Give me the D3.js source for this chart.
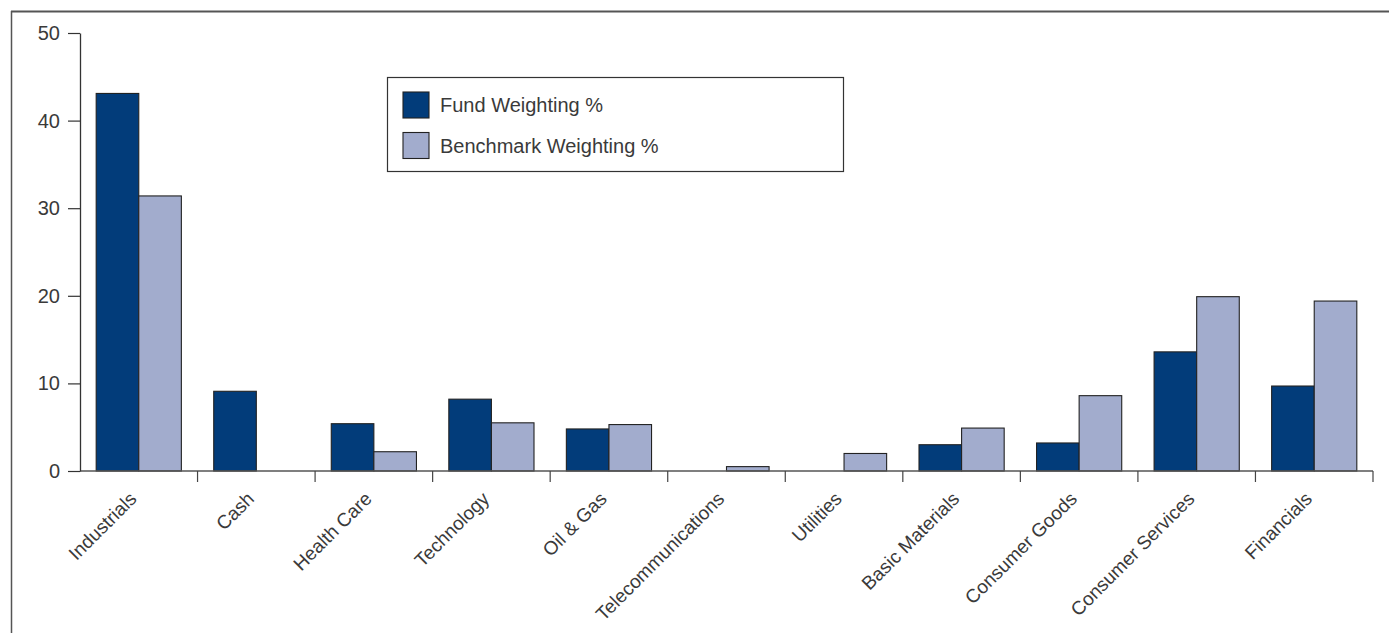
<!DOCTYPE html>
<html>
<head>
<meta charset="utf-8">
<script src="https://cdn.jsdelivr.net/npm/d3@7"></script>
<style>
  html, body { margin: 0; padding: 0; background: #fff; }
  svg { display: block; }
  text { font-family: "Liberation Sans", Arial, Helvetica, sans-serif; fill: #3a3a3a; }
</style>
</head>
<body>
<svg id="chart" width="1389" height="633"></svg>
<script>
const categories = ["Industrials", "Cash", "Health Care", "Technology", "Oil & Gas",
  "Telecommunications", "Utilities", "Basic Materials", "Consumer Goods",
  "Consumer Services", "Financials"];
const fundWeighting = [43.1, 9.1, 5.4, 8.2, 4.8, 0.0, 0.0, 3.0, 3.2, 13.6, 9.7];
const benchmarkWeighting = [31.4, 0.0, 2.2, 5.5, 5.3, 0.5, 2.0, 4.9, 8.6, 19.9, 19.4];
const seriesNames = ["Fund Weighting %", "Benchmark Weighting %"];
const seriesColors = ["#023c7a", "#a2accd"];
const yTicks = [0, 10, 20, 30, 40, 50];

const svg = d3.select("#chart");

// outer frame (top and left edges)
svg.append("line").attr("x1", 11).attr("x2", 1389).attr("y1", 11.5).attr("y2", 11.5)
  .attr("stroke", "#555").attr("stroke-width", 2);
svg.append("line").attr("x1", 11.5).attr("x2", 11.5).attr("y1", 11).attr("y2", 633)
  .attr("stroke", "#555").attr("stroke-width", 1.5);

const x0 = 80, x1 = 1373, yTop = 33, yBase = 471;
const x = d3.scaleBand().domain(categories).range([x0, x1]).paddingInner(0).paddingOuter(0);
const xs = d3.scaleBand().domain([0, 1]).range([0, x.bandwidth()]).paddingInner(0).paddingOuter(0.38);
const y = d3.scaleLinear().domain([0, 50]).range([yBase, yTop]);

const rows = categories.map((c, i) => ({ cat: c, vals: [fundWeighting[i], benchmarkWeighting[i]] }));

// bars
const g = svg.append("g");
rows.forEach(r => {
  r.vals.forEach((v, s) => {
    g.append("rect")
      .attr("x", x(r.cat) + xs(s))
      .attr("y", y(v))
      .attr("width", xs.bandwidth())
      .attr("height", yBase - y(v))
      .attr("fill", seriesColors[s])
      .attr("stroke", "#222")
      .attr("stroke-width", 1.1);
  });
});

// x axis line and ticks at band boundaries
svg.append("line").attr("x1", x0).attr("x2", x1).attr("y1", yBase).attr("y2", yBase)
  .attr("stroke", "#555").attr("stroke-width", 1.5);
const boundaries = categories.slice(1).map(c => x(c)).concat([x1]);
svg.selectAll(".xtick").data(boundaries).enter().append("line")
  .attr("x1", d => d).attr("x2", d => d)
  .attr("y1", yBase).attr("y2", yBase + 11)
  .attr("stroke", "#444").attr("stroke-width", 1.2);

// x labels
svg.selectAll(".xlab").data(categories).enter().append("text")
  .attr("transform", d => `translate(${x(d) + x.bandwidth() / 2 - 1},${yBase + 29}) rotate(-45)`)
  .attr("text-anchor", "end")
  .style("font-size", "19px")
  .text(d => d);

// y axis
const yAxis = d3.axisLeft(y).tickValues(yTicks).tickSize(12).tickPadding(8).tickSizeOuter(0);
const ya = svg.append("g").attr("transform", `translate(${x0},0)`).call(yAxis);
ya.select(".domain").attr("stroke", "#333").attr("stroke-width", 1.3);
ya.selectAll(".tick line").attr("stroke", "#333").attr("stroke-width", 1.2);
ya.selectAll(".tick text").style("font-size", "20px")
  .style("font-family", "'Liberation Sans', Arial, sans-serif").attr("fill", "#3a3a3a");

// legend
const lg = svg.append("g");
lg.append("rect").attr("x", 387.5).attr("y", 77.5).attr("width", 456).attr("height", 94)
  .attr("fill", "#fff").attr("stroke", "#333").attr("stroke-width", 1.2);
seriesNames.forEach((n, i) => {
  lg.append("rect").attr("x", 403).attr("y", 92 + i * 40.5).attr("width", 26).attr("height", 26)
    .attr("fill", seriesColors[i]).attr("stroke", "#222").attr("stroke-width", 1.1);
  lg.append("text").attr("x", 440).attr("y", 105 + i * 40.5).attr("dy", "0.35em")
    .style("font-size", "20px").text(n);
});
</script>
</body>
</html>
